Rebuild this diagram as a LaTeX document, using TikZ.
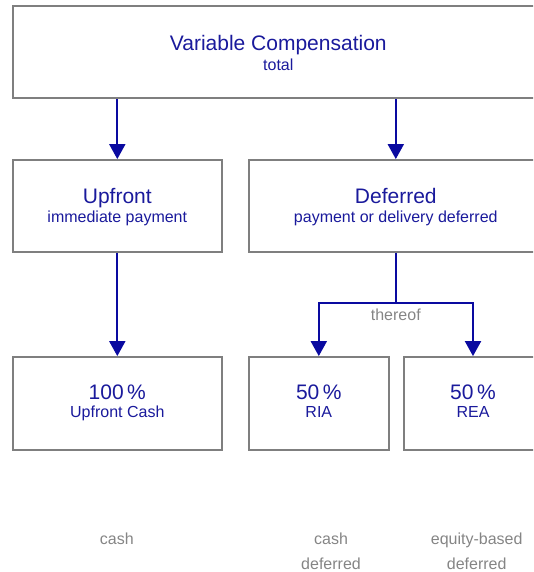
\documentclass[tikz,border=0pt]{standalone}
\usepackage{fontspec}
\setmainfont{Liberation Sans}
\usetikzlibrary{arrows.meta}
\definecolor{boxgray}{HTML}{7F7F7F}
\definecolor{txtblue}{HTML}{1A1A9C}
\definecolor{arrblue}{HTML}{0A0AA0}
\definecolor{txtgray}{HTML}{858585}
\tikzset{
  box/.style={draw=boxgray, line width=1.8pt, minimum height=92pt, inner sep=0pt, fill=white},
  big/.style={text=txtblue, font=\fontsize{21}{25}\selectfont, anchor=base, inner sep=0pt},
  small/.style={text=txtblue, font=\fontsize{16}{19}\selectfont, anchor=base, inner sep=0pt},
  note/.style={text=txtgray, font=\fontsize{16}{19}\selectfont, anchor=base, inner sep=0pt},
  conn/.style={draw=arrblue, line width=2pt, -{Triangle[width=16pt,length=15pt]}},
  connplain/.style={draw=arrblue, line width=2pt}
}
\begin{document}
\begin{tikzpicture}[x=1pt,y=-1pt]
\useasboundingbox (0,0) rectangle (533,572);
\clip (0,0) rectangle (533,572);
% boxes
\node[box, minimum width=531pt] (vc) at (278.3,52.4) {};
\node[box, minimum width=209.4pt] (up) at (117.3,206) {};
\node[box, minimum width=294.4pt] (de) at (395.8,206) {};
\node[box, minimum width=209.4pt, minimum height=93pt] (uc) at (117.3,403.5) {};
\node[box, minimum width=140.4pt, minimum height=93pt] (ria) at (318.8,403.5) {};
\node[box, minimum width=138pt, minimum height=93pt] (rea) at (473,403.5) {};
% texts
\node[big] (t1) at (278.3,51) {Variable Compensation};
\node[small] (t2) at (278.3,71) {total};
\node[big] (t3) at (117.3,203.3) {Upfront};
\node[small] (t4) at (117.3,222.7) {immediate payment};
\node[big] (t5) at (395.8,203.3) {Deferred};
\node[small] (t6) at (395.8,222.7) {payment or delivery deferred};
\node[big] (t7) at (117.3,399.5) {100\,\%};
\node[small] (t8) at (117.3,417) {Upfront Cash};
\node[big] (t9) at (318.8,399.5) {50\,\%};
\node[small] (t10) at (318.8,417.5) {RIA};
\node[big] (t11) at (473,399.5) {50\,\%};
\node[small] (t12) at (473,417.5) {REA};
\node[note] (th) at (395.8,320.7) {thereof};
\node[note] (n1) at (116.8,544.7) {cash};
\node[note] (n2) at (331,544.7) {cash};
\node[note] (n3) at (331,569.5) {deferred};
\node[note] (n4) at (476.7,544.7) {equity-based};
\node[note] (n5) at (476.7,569.5) {deferred};
% connectors
\draw[conn] (vc.south -| up) -- (up.north);
\draw[conn] (vc.south -| de) -- (de.north);
\draw[conn] (up.south) -- (uc.north);
\draw[connplain] (de.south) -- (de.south |- 0,303.4) coordinate (fk);
\draw[conn] (fk) -| (ria.north);
\draw[conn] (fk) -| (rea.north);
\end{tikzpicture}
\end{document}
